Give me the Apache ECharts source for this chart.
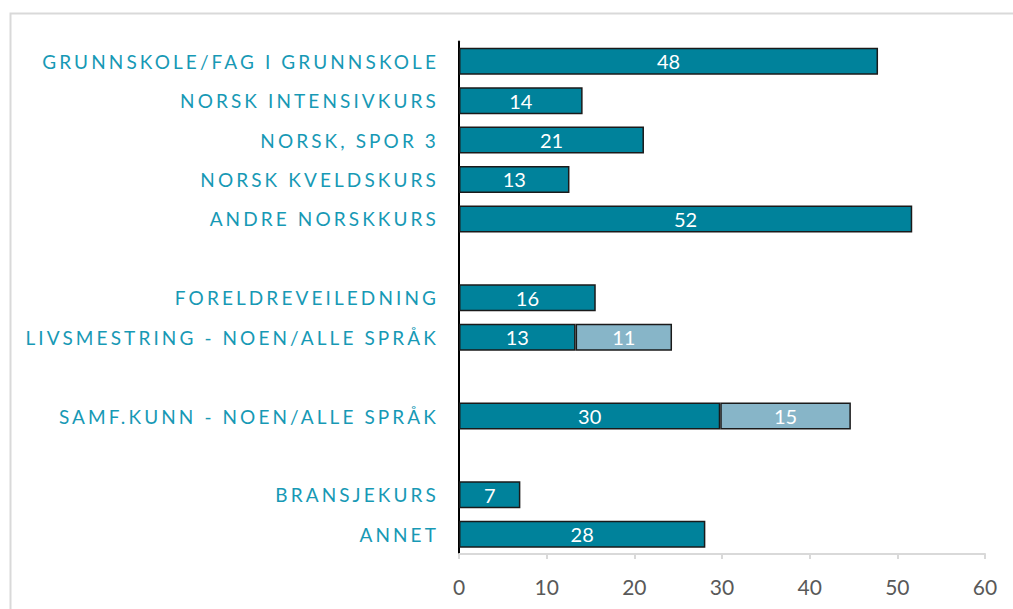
<!DOCTYPE html>
<html>
<head>
<meta charset="utf-8">
<script src="https://cdn.jsdelivr.net/npm/echarts@6/dist/echarts.min.js"></script>
<style>
  html, body { margin: 0; padding: 0; background: #fff; }
  #chart { width: 1013px; height: 609px; }
  /* spaced-out category labels */
  #chart text[fill="#1799b5"] { letter-spacing: 3.1px; }
</style>
</head>
<body>
<div id="chart"></div>
<script>
// blank rows are gaps between the groups
const categories = [
  "GRUNNSKOLE/FAG I GRUNNSKOLE",
  "NORSK INTENSIVKURS",
  "NORSK, SPOR 3",
  "NORSK KVELDSKURS",
  "ANDRE NORSKKURS",
  " ",
  "FORELDREVEILEDNING",
  "LIVSMESTRING - NOEN/ALLE SPRÅK",
  "  ",
  "SAMF.KUNN - NOEN/ALLE SPRÅK",
  "   ",
  "BRANSJEKURS",
  "ANNET"
];
const mainValues = [47.8, 14.1, 21.1, 12.6, 51.7, null, 15.6, 13.3, null, 29.8, null, 7.0, 28.1];
const extraValues = [null, null, null, null, null, null, null, 11.0, null, 14.9, null, null, null];
const xTicks = [0, 60, 10]; // min, max, interval

const chart = echarts.init(document.getElementById("chart"), null, { renderer: "svg" });

const barLabel = {
  show: true,
  position: "inside",
  color: "#fff",
  fontSize: 20,
  fontFamily: "Lato",
  formatter: function (p) { return Math.round(p.value); }
};

const option = {
  animation: false,
  graphic: [{
    type: "rect",
    left: 8, top: 11,
    shape: { width: 1100, height: 700 },
    style: { fill: "none", stroke: "#d9d9d9", lineWidth: 2 },
    silent: true, z: -1
  }],
  grid: { left: 459, right: 28, top: 41.5, bottom: 55 },
  xAxis: {
    type: "value",
    min: xTicks[0], max: xTicks[1], interval: xTicks[2],
    splitLine: { show: false },
    axisLine: { show: true, lineStyle: { color: "#d9d9d9", width: 2 } },
    axisTick: { show: true, length: 5, lineStyle: { color: "#d9d9d9", width: 2 } },
    axisLabel: { color: "#595959", fontSize: 21, fontFamily: "Lato", margin: 22 }
  },
  yAxis: {
    type: "category",
    inverse: true,
    data: categories,
    axisLine: { show: true, lineStyle: { color: "#000", width: 2 } },
    axisTick: { show: false },
    axisLabel: { color: "#1799b5", fontSize: 19, fontFamily: "Lato", margin: 20 }
  },
  series: [
    {
      name: "main", type: "bar", stack: "s", barWidth: 27,
      data: mainValues,
      itemStyle: { color: "#00829b", borderColor: "#1a1a1a", borderWidth: 1.5 },
      label: barLabel
    },
    {
      name: "extra", type: "bar", stack: "s", barWidth: 27,
      data: extraValues,
      itemStyle: { color: "#87b5c8", borderColor: "#1a1a1a", borderWidth: 1.5 },
      label: barLabel
    }
  ]
};

chart.setOption(option);
window.addEventListener("resize", function () { chart.resize(); });
</script>
</body>
</html>
